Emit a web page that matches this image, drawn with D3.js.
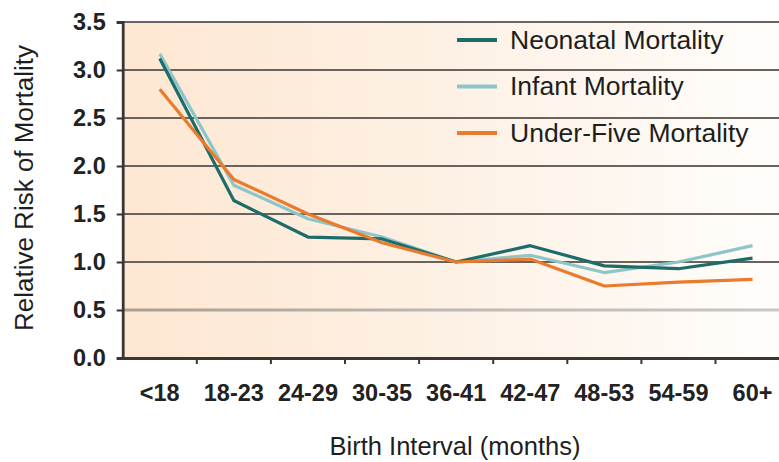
<!DOCTYPE html>
<html><head><meta charset="utf-8">
<script src="https://cdn.jsdelivr.net/npm/d3@7"></script>
<style>
html,body{margin:0;padding:0;background:#fff;}
svg{display:block;font-family:"Liberation Sans",Arial,Helvetica,sans-serif;}
</style></head>
<body>
<svg id="chart" width="779" height="462"></svg>
<script>
const categories = ["<18","18-23","24-29","30-35","36-41","42-47","48-53","54-59","60+"];
const neonatal  = [3.12, 1.64, 1.26, 1.24, 1.00, 1.17, 0.96, 0.93, 1.04];
const infant    = [3.17, 1.80, 1.45, 1.26, 1.00, 1.07, 0.89, 1.00, 1.17];
const underFive = [2.80, 1.86, 1.50, 1.20, 1.00, 1.03, 0.75, 0.79, 0.82];
const yTicks = [0, 0.5, 1.0, 1.5, 2.0, 2.5, 3.0, 3.5];
const seriesNames = ["Neonatal Mortality","Infant Mortality","Under-Five Mortality"];
const seriesColors = ["#1c6d69","#8ec5c9","#ea7a2c"];
const seriesData = [neonatal, infant, underFive];

const svg = d3.select("#chart");
const x0 = 122.7, x1 = 789.6, yTop = 22, yBot = 358;
const x = d3.scaleBand().domain(categories).range([x0, x1]).padding(0);
const y = d3.scaleLinear().domain([0, 3.5]).range([yBot, yTop]);

const defs = svg.append("defs");
const bg = defs.append("linearGradient").attr("id","bg").attr("x1","0").attr("x2","1").attr("y1","0").attr("y2","0");
bg.append("stop").attr("offset","0").attr("stop-color","#fde7d2");
bg.append("stop").attr("offset","0.5").attr("stop-color","#fdf1e5");
bg.append("stop").attr("offset","1").attr("stop-color","#fffdfb");
const g05 = defs.append("linearGradient").attr("id","g05").attr("gradientUnits","userSpaceOnUse")
  .attr("x1", x0).attr("x2", 779).attr("y1",0).attr("y2",0);
g05.append("stop").attr("offset","0").attr("stop-color","#aa9f90");
g05.append("stop").attr("offset","0.5").attr("stop-color","#bdb9b4");
g05.append("stop").attr("offset","1").attr("stop-color","#c8c8c8");

svg.append("rect").attr("x", x0).attr("y", y(3.5)).attr("width", 779 - x0).attr("height", y(0) - y(3.5)).attr("fill","url(#bg)");

// gridlines
svg.append("g").selectAll("line").data(yTicks.filter(d => d > 0)).join("line")
  .attr("x1", x0).attr("x2", 779).attr("y1", d => y(d)).attr("y2", d => y(d))
  .attr("stroke", d => d === 0.5 ? "url(#g05)" : "#6a635d")
  .attr("stroke-width", d => d === 0.5 ? 3 : 1.8);

// y axis
const yAxis = svg.append("g").attr("transform", `translate(${x0},0)`)
  .call(d3.axisLeft(y).tickValues(yTicks).tickFormat(d3.format(".1f")).tickSize(6).tickPadding(11));
yAxis.select(".domain").attr("stroke","#3a3633").attr("stroke-width",2.8);
yAxis.selectAll(".tick line").attr("stroke","#3a3633").attr("stroke-width",2);
yAxis.selectAll(".tick text").attr("font-size",23.5).attr("font-weight","bold").attr("fill","#222")
  .attr("font-family","'Liberation Sans',Arial,sans-serif");

// x axis
const xAxis = svg.append("g").attr("transform", `translate(0,${yBot})`)
  .call(d3.axisBottom(x).tickSize(0).tickPadding(26));
xAxis.select(".domain").attr("stroke","#3a3633").attr("stroke-width",2.8);
xAxis.selectAll(".tick text").attr("font-size",23.5).attr("font-weight","bold").attr("fill","#222")
  .attr("font-family","'Liberation Sans',Arial,sans-serif");
// boundary tick marks between categories
svg.append("g").selectAll("line").data(categories.slice(1)).join("line")
  .attr("x1", d => x(d)).attr("x2", d => x(d)).attr("y1", yBot).attr("y2", yBot + 6)
  .attr("stroke","#3a3633").attr("stroke-width",2);

// lines
const line = d3.line().x((d, i) => x(categories[i]) + x.bandwidth() / 2).y(d => y(d));
const order = [1, 0, 2];
svg.append("g").selectAll("path").data(order).join("path")
  .attr("d", k => line(seriesData[k])).attr("fill","none")
  .attr("stroke", k => seriesColors[k]).attr("stroke-width", 3.2)
  .attr("stroke-linejoin","round");

// legend
const leg = svg.append("g").selectAll("g").data(seriesNames).join("g")
  .attr("transform", (d, i) => `translate(0,${40 + i * 46.5})`);
leg.append("line").attr("x1",457).attr("x2",497).attr("y1",0).attr("y2",0)
  .attr("stroke", (d, i) => seriesColors[i]).attr("stroke-width",4);
leg.append("text").attr("x",510).attr("y",8.5).text(d => d)
  .attr("font-size",26.5).attr("fill","#1e1e1e");

// axis titles
svg.append("text").attr("x",455).attr("y",455).attr("text-anchor","middle")
  .attr("font-size",25.5).attr("fill","#1e1e1e").text("Birth Interval (months)");
svg.append("text").attr("transform","translate(33,188) rotate(-90)").attr("text-anchor","middle")
  .attr("font-size",26).attr("fill","#1e1e1e").text("Relative Risk of Mortality");
</script>
</body></html>
